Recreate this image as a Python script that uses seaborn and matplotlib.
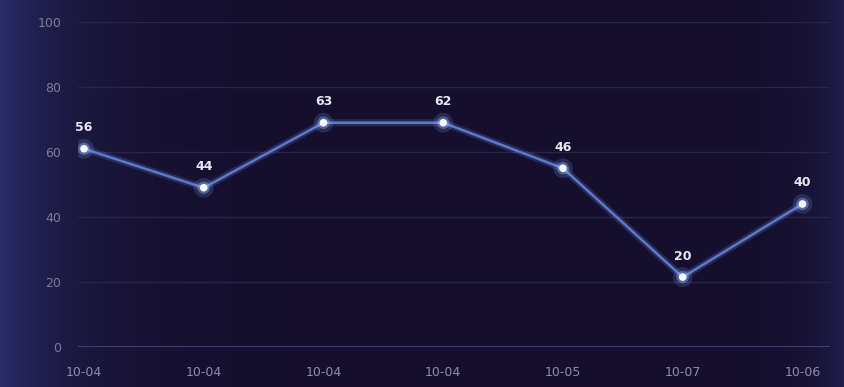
import numpy as np
import pandas as pd
import matplotlib
matplotlib.use("Agg")
import matplotlib.pyplot as plt
import seaborn as sns

# data
dates = ["10-04", "10-04", "10-04", "10-04", "10-05", "10-07", "10-06"]
values = [61, 49, 69, 69, 55, 21.5, 44]
labels = ["56", "44", "63", "62", "46", "20", "40"]
y_ticks = [0, 20, 40, 60, 80, 100]

df = pd.DataFrame({"pos": range(len(dates)), "value": values})

sns.set_style("dark")
plt.rcParams["font.family"] = ["DejaVu Sans"]

bg = "#150f2d"
fig = plt.figure(figsize=(8.45, 3.87), dpi=100)
fig.patch.set_facecolor(bg)

# background with a soft blue glow on the edges
bgax = fig.add_axes([0, 0, 1, 1])
xs = np.linspace(0, 1, 400)
left = np.exp(-xs / 0.08)
right = np.exp(-(1 - xs) / 0.035)
glow = np.clip(left * 0.85 + right * 0.45, 0, 1)
base = np.array([0x15, 0x0f, 0x2d]) / 255
edge = np.array([0x2c, 0x32, 0x74]) / 255
img = base[None, :] * (1 - glow[:, None]) + edge[None, :] * glow[:, None]
bgax.imshow(img[None, :, :], aspect="auto", extent=[0, 1, 0, 1])
bgax.axis("off")

ax = fig.add_axes([78 / 845, 40 / 387, (830 - 78) / 845, (365 - 40) / 387])
ax.set_facecolor("none")

for t in y_ticks[1:]:
    ax.axhline(t, color="#28244c", lw=1, zorder=0)
ax.axhline(0, color="#4a4780", lw=1.2, zorder=0)

# soft glow under the line
sns.lineplot(data=df, x="pos", y="value", ax=ax, color="#5a7ad8", lw=5,
             alpha=0.25, zorder=2)
sns.lineplot(data=df, x="pos", y="value", ax=ax, color="#6079c6", lw=1.8, zorder=2)
sns.scatterplot(data=df, x="pos", y="value", ax=ax, s=200, color="#7fa8ff",
                alpha=0.18, edgecolor="none", zorder=3)
sns.scatterplot(data=df, x="pos", y="value", ax=ax, s=80, color="#a9c6ff",
                alpha=0.35, edgecolor="none", zorder=3)
sns.scatterplot(data=df, x="pos", y="value", ax=ax, s=30, color="#f4f7ff",
                edgecolor="none", zorder=4)

for x, y, lab in zip(df["pos"], df["value"], labels):
    ax.text(x, y + 4.5, lab, ha="center", va="bottom", color="#e8e8f2",
            fontsize=9, fontweight="bold")

ax.set_xlim(-0.05, 6.23)
ax.set_ylim(0, 100)
ax.set_yticks(y_ticks)
ax.set_yticklabels([str(t) for t in y_ticks], color="#7d7c9e", fontsize=9)
ax.set_xticks(df["pos"])
ax.set_xticklabels(dates, color="#8e8db0", fontsize=9)
ax.tick_params(length=0, pad=12)
ax.tick_params(axis="x", pad=14)
ax.grid(False)
for s in ax.spines.values():
    s.set_visible(False)
ax.set_xlabel("")
ax.set_ylabel("")

fig.savefig("out.png", dpi=100, facecolor=bg)
